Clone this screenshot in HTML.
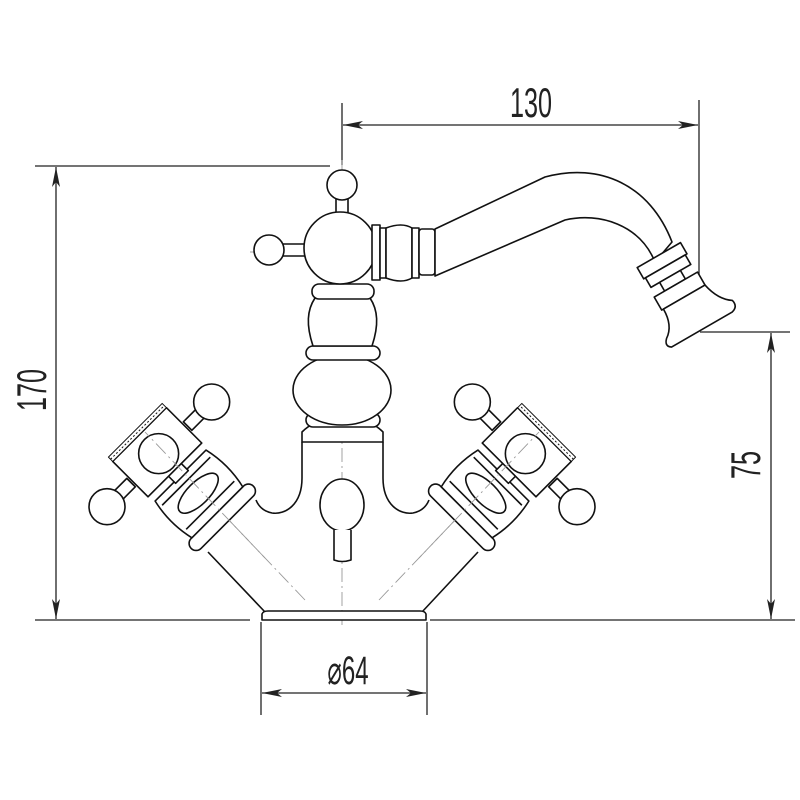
<!DOCTYPE html>
<html><head><style>html,body{margin:0;padding:0;background:#fff}svg{display:block}</style></head>
<body>
<svg width="800" height="800" viewBox="0 0 800 800" xmlns="http://www.w3.org/2000/svg">
<defs>
<marker id="a" viewBox="0 0 20 8" refX="20" refY="4" markerWidth="20" markerHeight="8" markerUnits="userSpaceOnUse" orient="auto-start-reverse"><path d="M0,0 L20,4 L0,8 L5,4Z" fill="#222"/></marker>
</defs>
<g stroke="#222" stroke-width="1.3" fill="none">
<line x1="342" y1="103" x2="342" y2="165"/>
<line x1="699" y1="100" x2="699" y2="330"/>
<line x1="343" y1="125" x2="698" y2="125" marker-start="url(#a)" marker-end="url(#a)"/>
<line x1="35" y1="166" x2="330" y2="166"/>
<line x1="35" y1="620" x2="250" y2="620"/>
<line x1="56" y1="167" x2="56" y2="619" marker-start="url(#a)" marker-end="url(#a)"/>
<line x1="700" y1="332" x2="790" y2="332"/>
<line x1="430" y1="620" x2="795" y2="620"/>
<line x1="771" y1="333" x2="771" y2="619" marker-start="url(#a)" marker-end="url(#a)"/>
<line x1="261" y1="622" x2="261" y2="715"/>
<line x1="427" y1="622" x2="427" y2="715"/>
<line x1="262" y1="693" x2="426" y2="693" marker-start="url(#a)" marker-end="url(#a)"/>
</g>
<g fill="#222" font-family="Liberation Sans, sans-serif" font-size="42">
<text transform="translate(531,117) scale(0.6,1)" text-anchor="middle">130</text>
<text transform="translate(46,390) rotate(-90) scale(0.6,1)" text-anchor="middle">170</text>
<text transform="translate(760,465) rotate(-90) scale(0.6,1)" text-anchor="middle">75</text>
<text transform="translate(348,684) scale(0.6,1)" text-anchor="middle" font-size="40">⌀64</text>
</g>
<g stroke="#999" stroke-width="0.9" fill="none" stroke-dasharray="14,4,2,4">
<line x1="342" y1="160" x2="342" y2="625"/>
<line x1="250" y1="252" x2="435" y2="252"/>
<path d="M435,252 L555,198 C600,178 640,190 660,240 L700,330"/>
<line x1="305" y1="600" x2="145" y2="432"/>
<line x1="379" y1="600" x2="539" y2="432"/>
</g>
<g stroke="#111" stroke-width="1.6" fill="#fff" stroke-linejoin="round">
<path d="M265,612 L208,552 M422,612 L478,552" fill="none"/>
<path d="M262,620 L262,614 Q263,611 268,611 L420,611 Q425,611 426,614 L426,620 Z"/>
<path d="M302,442 L302,478 C302,505 285,515 272,513 C262,511 258,505 256,500 M383,442 L383,478 C383,505 400,515 413,513 C423,511 427,505 429,500" fill="none"/>
<ellipse cx="342" cy="505" rx="22" ry="26"/>
<path d="M334,530 L334,560 Q342,563 351,560 L351,530" />
<path d="M302,442 L302,432 Q308,426 315,423 L370,423 Q377,426 383,432 L383,442 Z"/>
<rect x="306" y="413" width="74" height="14" rx="7"/>
<ellipse cx="342" cy="390" rx="49" ry="35"/>
<rect x="306" y="346" width="74" height="14" rx="7"/>
<path d="M313,346 C306,325 307,310 315,298 L370,298 C378,310 379,325 372,346 Z"/>
<rect x="312" y="284" width="62" height="15" rx="7"/>
<rect x="336" y="192" width="12" height="24"/>
<circle cx="342" cy="185" r="15"/>
<rect x="280" y="244" width="26" height="12"/>
<circle cx="269" cy="250" r="15"/>
<circle cx="340" cy="248" r="36"/>
<rect x="372" y="225" width="8" height="55"/>
<rect x="380" y="228" width="6" height="50"/>
<path d="M386,228 Q402,222 412,228 L412,278 Q402,284 386,278 Z"/>
<rect x="412" y="228" width="7" height="50"/>
<rect x="419" y="229" width="16" height="46" rx="3"/>
<path d="M435,229 L545,177 C600,162 650,185 672,242 L655,262 C640,225 600,212 565,220 L435,276 Z"/>
<g transform="translate(664,266) rotate(-30)">
<rect x="-24" y="-12" width="50" height="13"/>
<rect x="-22" y="1" width="46" height="11"/>
<rect x="-12" y="12" width="24" height="10"/>
<rect x="-24" y="22" width="50" height="15"/>
<path d="M-22,37 L26,37 Q30,56 42,64 Q44,72 36,74 L-34,74 Q-40,70 -34,64 Q-22,56 -22,37 Z"/>
</g>
</g>
<g id="h" stroke="#111" stroke-width="1.6" fill="#fff" stroke-linejoin="round">
<g transform="translate(305,600) rotate(-45)">
<rect x="-44" y="-124" width="88" height="14" rx="7"/>
<path d="M-36,-124 L36,-124 Q42,-150 36,-176 L-36,-176 Q-42,-150 -36,-124 Z"/>
<line x1="-34" y1="-134" x2="34" y2="-134"/>
<line x1="-34" y1="-168" x2="34" y2="-168"/>
<ellipse cx="0" cy="-151" rx="26" ry="11"/>
<rect x="-9" y="-186" width="18" height="12"/>
<path d="M-62,-212 L-40,-212 L-40,-200 L-62,-200 Z M40,-212 L62,-212 L62,-200 L40,-200 Z"/>
<circle cx="-74" cy="-206" r="18"/>
<circle cx="74" cy="-206" r="18"/>
<rect x="-38" y="-234" width="76" height="50"/>
<rect x="-38" y="-240" width="76" height="6" stroke-width="1"/>
<line x1="-38" y1="-237" x2="38" y2="-237" stroke-width="1" stroke-dasharray="2,2"/>
<circle cx="0" cy="-207" r="20"/>
</g>
</g>
<use href="#h" transform="translate(684,0) scale(-1,1)"/>
<g stroke="#999" stroke-width="0.9" fill="none" stroke-dasharray="14,4,2,4">
<line x1="265" y1="558" x2="145" y2="432"/>
<line x1="419" y1="558" x2="539" y2="432"/>
</g>
</svg>
</body></html>
